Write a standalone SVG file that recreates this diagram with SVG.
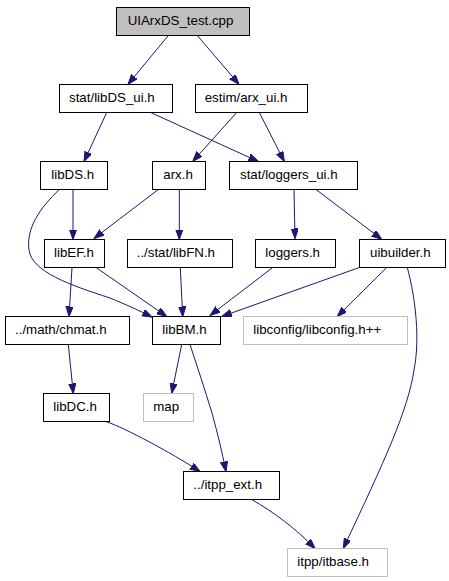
<svg xmlns="http://www.w3.org/2000/svg" width="449" height="581" viewBox="0 0 449 581">
<style>
.n rect{fill:#fff;stroke:#000;stroke-width:1}
.n.g rect{stroke:#bfbfbf}
.n.r rect{fill:#bfbfbf}
.n text{font-family:"Liberation Sans",Arial,sans-serif;font-size:13.3px;fill:#000}
.e path{fill:none;stroke:#191970;stroke-width:1;marker-end:url(#a)}
</style>
<defs>
<marker id="a" markerWidth="11" markerHeight="8" refX="10" refY="3.6" orient="auto" markerUnits="userSpaceOnUse">
<path d="M0,0 L10,3.6 L0,7.2 z" fill="#191970" stroke="#191970" stroke-width="1"/>
</marker>
</defs>
<rect width="449" height="581" fill="#fff"/>
<g class="e">
<path d="M168.3,35.5 L128,84.3"/>
<path d="M197.3,35.5 L239,84.3"/>
<path d="M106.7,112.5 L84,161.5"/>
<path d="M150.7,112.5 L258.3,161.5"/>
<path d="M236.7,112.5 L192.7,161.5"/>
<path d="M259.3,112.5 L284.3,161.5"/>
<path d="M73,189.5 L73,239.5"/>
<path d="M59.3,189.5 C40,208 26,228 29,250 C32,272 70,285 110,298 C125,304 140,311 152,317"/>
<path d="M158.3,189.5 L94,238.5"/>
<path d="M179.3,189.5 L179.3,239.5"/>
<path d="M294,189.5 L295,238.5"/>
<path d="M316,189.5 L381.7,239.3"/>
<path d="M72,267.5 L69,316.5"/>
<path d="M96,267.5 L166.7,316.5"/>
<path d="M180.3,267.5 L182.7,316.5"/>
<path d="M272.7,267.5 L210,315.5"/>
<path d="M359.3,267.5 L221.7,316.5"/>
<path d="M386.7,267.5 L337.3,316.5"/>
<path d="M407.3,267.5 C416,300 420,340 414,370 C408,410 385,460 343.3,548.3"/>
<path d="M68.3,344.5 L73.3,393.5"/>
<path d="M181.7,344.5 L171.7,393.3"/>
<path d="M190,344.5 C197,366 205,390 212,413 C218,435 222,452 226,471.5"/>
<path d="M106,421.5 C125,428 170,452 200,471.5"/>
<path d="M251.7,499.5 C275,513 295,528 315,548.5"/>
</g>
<g id="n0" class="n r"><rect x="116.5" y="7.5" width="133" height="28"/><text x="127.7" y="25.3">UIArxDS_test.cpp</text></g>
<g id="n1" class="n"><rect x="59.5" y="84.5" width="113" height="28"/><text x="69" y="102.3">stat/libDS_ui.h</text></g>
<g id="n2" class="n"><rect x="195.5" y="84.5" width="112" height="28"/><text x="204.7" y="102.3">estim/arx_ui.h</text></g>
<g id="n3" class="n"><rect x="40.5" y="161.5" width="67" height="28"/><text x="51.3" y="179.3">libDS.h</text></g>
<g id="n4" class="n"><rect x="152.5" y="161.5" width="53" height="28"/><text x="163.3" y="179.3">arx.h</text></g>
<g id="n5" class="n"><rect x="229.5" y="161.5" width="128" height="28"/><text x="240" y="179.3">stat/loggers_ui.h</text></g>
<g id="n6" class="n"><rect x="44.5" y="239.5" width="60" height="28"/><text x="54" y="257.3">libEF.h</text></g>
<g id="n7" class="n"><rect x="127.5" y="239.5" width="105" height="28"/><text x="136.7" y="257.3">../stat/libFN.h</text></g>
<g id="n8" class="n"><rect x="255.5" y="239.5" width="80" height="28"/><text x="265.3" y="257.3">loggers.h</text></g>
<g id="n9" class="n"><rect x="359.5" y="239.5" width="86" height="28"/><text x="370" y="257.3">uibuilder.h</text></g>
<g id="n10" class="n"><rect x="5.5" y="316.5" width="124" height="28"/><text x="15" y="334.3">../math/chmat.h</text></g>
<g id="n11" class="n"><rect x="152.5" y="316.5" width="68" height="28"/><text x="162.3" y="334.3">libBM.h</text></g>
<g id="n12" class="n g"><rect x="243.5" y="316.5" width="164" height="28"/><text x="253.3" y="334.3">libconfig/libconfig.h++</text></g>
<g id="n13" class="n"><rect x="43.5" y="393.5" width="66" height="28"/><text x="53.3" y="411.3">libDC.h</text></g>
<g id="n14" class="n g"><rect x="143.5" y="393.5" width="50" height="28"/><text x="153.3" y="411.3">map</text></g>
<g id="n15" class="n"><rect x="183.5" y="471.5" width="96" height="28"/><text x="193.3" y="489.3">../itpp_ext.h</text></g>
<g id="n16" class="n g"><rect x="287.5" y="548.5" width="100" height="28"/><text x="297.3" y="566.3">itpp/itbase.h</text></g>
</svg>
